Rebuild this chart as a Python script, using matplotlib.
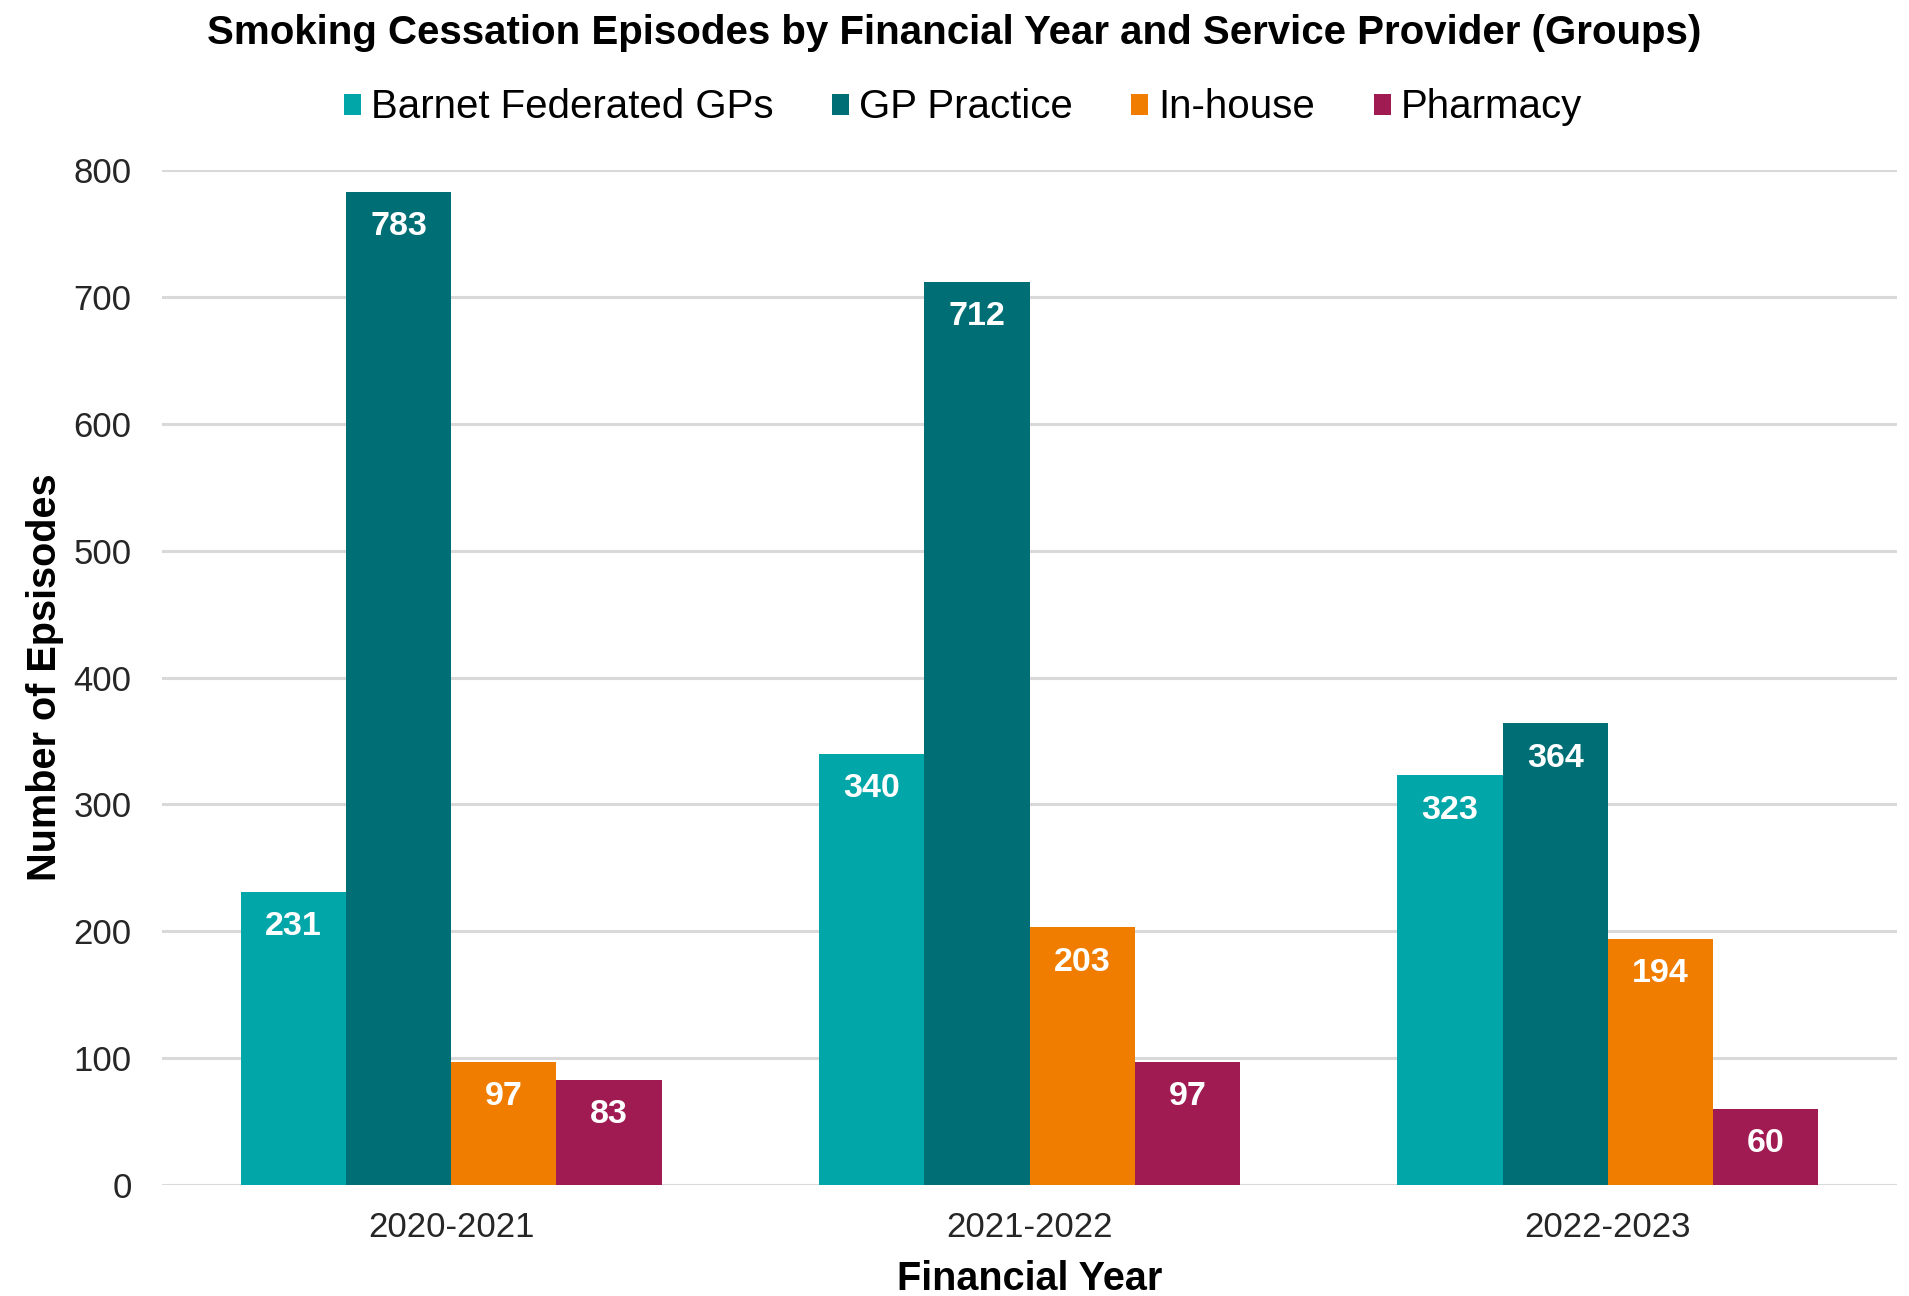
import matplotlib
matplotlib.use("Agg")
import matplotlib.pyplot as plt
import numpy as np
from matplotlib.patches import Patch

years = ["2020-2021", "2021-2022", "2022-2023"]
providers = ["Barnet Federated GPs", "GP Practice", "In-house", "Pharmacy"]
barnet = [231, 340, 323]
gp_practice = [783, 712, 364]
in_house = [97, 203, 194]
pharmacy = [83, 97, 60]
colors = ["#00A6A8", "#006F75", "#F07D00", "#A01B52"]

plt.rcParams["font.family"] = ["Liberation Sans", "DejaVu Sans"]

fig = plt.figure(figsize=(19.09, 12.96), dpi=100)
ax = fig.add_axes([0.0849, 0.0856, 0.9088, 0.7832])

series = [barnet, gp_practice, in_house, pharmacy]
x = np.arange(len(years))
w = 0.182
for i, (vals, c) in enumerate(zip(series, colors)):
    pos = x + (i - 1.5) * w
    bars = ax.bar(pos, vals, width=w, color=c, zorder=3)
    for b, v in zip(bars, vals):
        ax.annotate(str(v), (b.get_x() + b.get_width() / 2, v),
                    xytext=(0, -35), textcoords="offset pixels",
                    ha="center", va="center", color="white",
                    fontsize=24.5, fontweight="bold", zorder=4)

ax.set_xlim(-0.5, 2.5)
ax.set_ylim(0, 800)
ax.set_yticks(range(0, 801, 100))
ax.set_xticks(x)
ax.set_xticklabels(years)
ax.tick_params(axis="both", length=0, labelsize=25, colors="#262626")
ax.tick_params(axis="y", pad=22)
ax.tick_params(axis="x", pad=19)
ax.grid(axis="y", color="#D9D9D9", linewidth=2.2, zorder=0)
for s in ax.spines.values():
    s.set_visible(False)

ax.set_ylabel("Number of Epsisodes", fontsize=28.5, fontweight="bold", labelpad=7)
ax.set_xlabel("Financial Year", fontsize=28.5, fontweight="bold", labelpad=11)

fig.text(0.5, 1 - 33.5 / 1296, "Smoking Cessation Episodes by Financial Year and Service Provider (Groups)",
         ha="center", va="center", fontsize=29, fontweight="bold")

handles = [Patch(facecolor=c, label=p) for c, p in zip(colors, providers)]
fig.legend(handles=handles, loc="center", bbox_to_anchor=(0.5045, 1 - 107.5 / 1296),
           ncol=4, frameon=False, fontsize=29, handlelength=0.42, handleheight=0.42,
           handletextpad=0.25, columnspacing=1.45, borderpad=0)

fig.savefig("out.png", dpi=100)
